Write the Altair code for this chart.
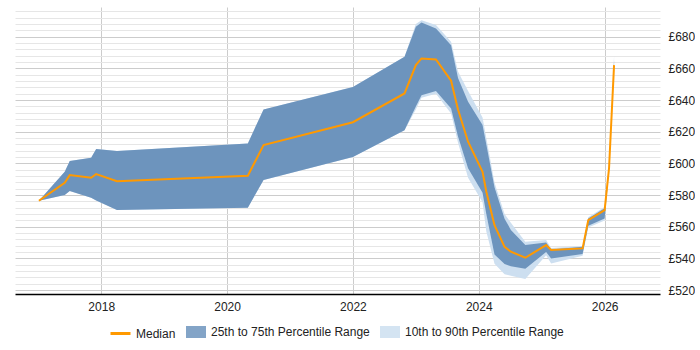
import altair as alt
import pandas as pd

years = [2017.01, 2017.42, 2017.50, 2017.84, 2017.92, 2018.25, 2020.33, 2020.58,
         2022.00, 2022.82, 2023.00, 2023.09, 2023.32, 2023.56, 2023.67, 2023.83,
         2024.06, 2024.12, 2024.25, 2024.41, 2024.51, 2024.74, 2025.07, 2025.15,
         2025.65, 2025.74, 2026.00, 2026.07, 2026.15]
median = [576.4, 587.8, 592.6, 590.9, 593.3, 588.8, 592.2, 611.6,
          626.0, 644.2, 662.1, 666.3, 665.7, 652.2, 634.0, 613.7,
          594.7, 582.1, 561.0, 547.3, 544.2, 540.4, 548.4, 545.3,
          546.3, 564.2, 570.5, 596.8, 662.1]
p25 = [576.4, 580.0, 582.5, 578.3, 576.5, 570.5, 572.0, 589.5,
       604.0, 621.0, 636.0, 643.0, 645.7, 634.7, 617.0, 597.0,
       581.5, 568.0, 542.5, 536.5, 535.0, 533.5, 544.0, 540.0,
       542.7, 560.6, 565.2, 596.0, 660.0]
p75 = [576.4, 594.7, 601.5, 603.6, 609.1, 607.8, 612.6, 634.1,
       648.2, 667.4, 686.3, 689.0, 685.2, 674.7, 654.0, 638.9,
       624.3, 612.0, 585.0, 565.0, 558.0, 548.4, 550.0, 545.6,
       547.3, 565.2, 571.6, 598.0, 665.0]
p10 = [576.4, 580.0, 582.5, 578.3, 576.5, 570.5, 572.0, 589.5,
       604.0, 621.0, 634.0, 641.5, 644.0, 631.5, 613.0, 591.0,
       575.5, 557.0, 536.6, 530.0, 529.0, 527.0, 542.0, 536.8,
       541.7, 559.5, 564.0, 595.0, 658.0]
p90 = [576.4, 594.7, 601.5, 603.6, 609.1, 607.8, 612.6, 634.1,
       648.2, 667.4, 688.0, 690.5, 687.4, 676.8, 658.0, 645.8,
       629.0, 616.0, 588.0, 568.0, 562.5, 550.5, 551.6, 546.5,
       547.8, 566.0, 572.5, 599.0, 668.0]

x_ticks = [2018, 2020, 2022, 2024, 2026]
y_grid = list(range(520, 700, 4))

MED = "Median"
IQR = "25th to 75th Percentile Range"
DEC = "10th to 90th Percentile Range"

ORANGE = "#ff9900"
DARK = "#6d94bd"
LIGHT = "#cddff0"
FONT = "Liberation Sans"

rows = []
for i, yv in enumerate(years):
    rows.append({"year": yv, "band": DEC, "lo": p10[i], "hi": p90[i]})
    rows.append({"year": yv, "band": IQR, "lo": p25[i], "hi": p75[i]})
bands = pd.DataFrame(rows)
line_df = pd.DataFrame({"year": years, "value": median, "series": MED})

x_scale = alt.Scale(domain=[2016.63, 2026.88], nice=False, zero=False)
y_scale = alt.Scale(domain=[517.5, 698.8], nice=False, zero=False)

x_axis = alt.Axis(values=x_ticks, format="d", title=None, grid=True,
                  gridColor="#cccccc", ticks=False, tickSize=0,
                  domainColor="#000000", domainWidth=1.5, labelPadding=7,
                  labelFont=FONT, labelFontSize=12, labelColor="#222222")
y_axis = alt.Axis(orient="right", values=y_grid, tickCount=1000, title=None, grid=True,
                  labelExpr="datum.value % 20 === 0 ? '£' + datum.value : ''",
                  labelOverlap=False, labelBound=False,
                  gridColor=alt.condition("datum.value % 20 === 0",
                                          alt.value("#cccccc"), alt.value("#e6e6e6")),
                  ticks=False, tickSize=0, domain=False, labelPadding=8,
                  labelFont=FONT, labelFontSize=12, labelColor="#222222")

fill_scale = alt.Scale(domain=[IQR, DEC], range=[DARK, LIGHT])
band_legend = alt.Legend(
    orient="none", legendX=171, legendY=315, direction="horizontal", title=None,
    labelFont=FONT, labelFontSize=12, labelColor="#222222",
    symbolSize=400, symbolType="M-1,-0.6H1V0.6H-1Z", symbolOpacity=0.85,
    symbolStrokeWidth=0, columnPadding=10, labelOffset=5,
)
stroke_scale = alt.Scale(domain=[MED], range=[ORANGE])
line_legend = alt.Legend(
    orient="none", legendX=94, legendY=315, direction="horizontal", title=None,
    labelFont=FONT, labelFontSize=12, labelColor="#222222",
    symbolSize=400, symbolType="stroke", symbolStrokeWidth=3, labelOffset=4,
)

base = alt.Chart(bands)
light = base.transform_filter(alt.datum.band == DEC).mark_area(interpolate="linear").encode(
    x=alt.X("year:Q", scale=x_scale, axis=x_axis),
    y=alt.Y("lo:Q", scale=y_scale, axis=y_axis),
    y2="hi:Q",
    fill=alt.Fill("band:N", scale=fill_scale, legend=band_legend),
)
dark = base.transform_filter(alt.datum.band == IQR).mark_area(interpolate="linear").encode(
    x=alt.X("year:Q", scale=x_scale),
    y=alt.Y("lo:Q", scale=y_scale),
    y2="hi:Q",
    fill=alt.Fill("band:N", scale=fill_scale, legend=band_legend),
)
line = alt.Chart(line_df).mark_line(strokeWidth=2).encode(
    x=alt.X("year:Q", scale=x_scale),
    y=alt.Y("value:Q", scale=y_scale),
    stroke=alt.Stroke("series:N", scale=stroke_scale, legend=line_legend),
)

chart = alt.layer(light, dark, line).properties(
    width=645, height=287,
    padding={"left": 15, "top": 5, "right": 0, "bottom": 0},
    background="white",
).configure_view(stroke=None)

chart.save("out.html", embed_options={"renderer": "svg", "actions": False})
